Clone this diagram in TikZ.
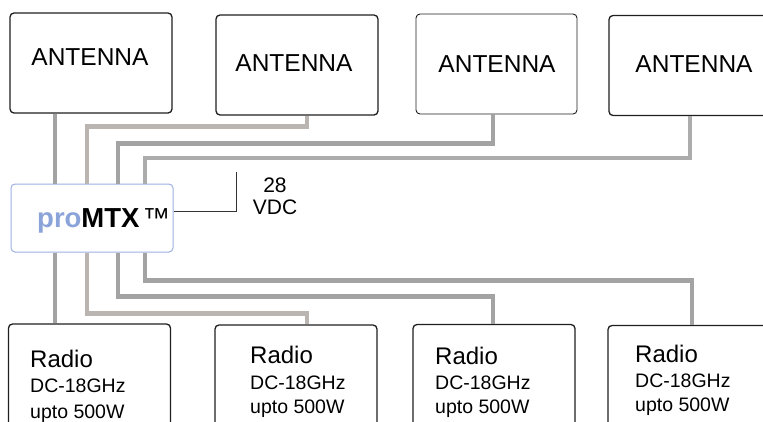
\documentclass[tikz,border=0pt]{standalone}
\usepackage{fontspec}
\setmainfont{Liberation Sans}
\definecolor{cableA}{HTML}{A3A3A3}
\definecolor{cableB}{HTML}{BAB5B1}
\definecolor{mtxline}{HTML}{9DB0E2}
\definecolor{problue}{HTML}{8AA3D8}
\begin{document}
\begin{tikzpicture}[x=1pt,y=-1pt,
  box/.style={draw=black!88,line width=1.3pt,rounded corners=4pt,fill=white,inner sep=0pt},
  antbox/.style={box,minimum width=162pt,minimum height=100pt},
  radbox/.style={box,minimum width=162pt,minimum height=136pt},
  mtxbox/.style={draw=mtxline,line width=1pt,rounded corners=4pt,fill=white,inner sep=0pt,minimum width=162pt,minimum height=68pt},
  anttext/.style={inner sep=0pt,font=\fontsize{24.5}{28}\selectfont},
  radtitle/.style={inner sep=0pt,anchor=base west,font=\fontsize{24}{27}\selectfont},
  radsub/.style={inner sep=0pt,anchor=base west,font=\fontsize{19.5}{23}\selectfont},
  vdctext/.style={inner sep=0pt,anchor=base,font=\fontsize{21}{24}\selectfont},
  cable/.style={line width=4.5pt,line join=miter},
  power/.style={draw=black!80,line width=0.9pt}]
\useasboundingbox (0,0) rectangle (763,421);
\clip (0,0) rectangle (763,421);
% antenna boxes
\node[antbox] (a1) at (91,63) {};
\node[antbox] (a2) at (297,65) {};
\node[antbox,line width=0.9pt,minimum width=161pt] (a3) at (496.5,64) {};
\node[antbox] (a4) at (690,65.5) {};
\node[anttext] (a1t) at (90,57) {ANTENNA};
\node[anttext] (a2t) at (294,63) {ANTENNA};
\node[anttext] (a3t) at (497,64.5) {ANTENNA};
\node[anttext] (a4t) at (694,64.5) {ANTENNA};
% radio boxes
\node[radbox] (r1) at (89.5,392) {};
\node[radbox] (r2) at (296,393) {};
\node[radbox] (r3) at (494,392.5) {};
\node[radbox] (r4) at (689,393.5) {};
\node[radtitle] (r1a) at (30,367) {Radio};
\node[radsub] (r1b) at (30,392) {DC-18GHz};
\node[radsub] (r1c) at (30,418) {upto 500W};
\node[radtitle] (r2a) at (250,363) {Radio};
\node[radsub] (r2b) at (250,389) {DC-18GHz};
\node[radsub] (r2c) at (250,413) {upto 500W};
\node[radtitle] (r3a) at (435,364) {Radio};
\node[radsub] (r3b) at (435,389) {DC-18GHz};
\node[radsub] (r3c) at (435,413) {upto 500W};
\node[radtitle] (r4a) at (635,362) {Radio};
\node[radsub] (r4b) at (635,387) {DC-18GHz};
\node[radsub] (r4c) at (635,411) {upto 500W};
% proMTX
\node[mtxbox] (mtx) at (92,218) {};
\node[inner sep=0pt,anchor=base west,font=\fontsize{27.5}{30}\selectfont] (mtxt) at (37,227)
  {\textbf{\textcolor{problue}{pro}MTX}\kern3pt ™};
% ports
\coordinate (m1) at ([xshift=-37pt]mtx.north);
\coordinate (m2) at ([xshift=-5pt]mtx.north);
\coordinate (m3) at ([xshift=26pt]mtx.north);
\coordinate (m4) at ([xshift=53pt]mtx.north);
\coordinate (n1) at ([xshift=-37pt]mtx.south);
\coordinate (n2) at ([xshift=-5pt]mtx.south);
\coordinate (n3) at ([xshift=26pt]mtx.south);
\coordinate (n4) at ([xshift=53pt]mtx.south);
% top cables
\draw[cable,cableA] (m1) -- (m1 |- a1.south);
\draw[cable,cableB] ([xshift=10pt]a2.south) -- ++(0,11) -| (m2);
\draw[cable,cableA] ([xshift=-3.5pt]a3.south) -- ++(0,29) -| (m3);
\draw[cable,cableA!90!white] (a4.south) -- ++(0,42) -| (m4);
% bottom cables
\draw[cable,cableA] (n1) -- (n1 |- r1.north);
\draw[cable,cableB] (n2) -- ++(0,61) -| ([xshift=11pt]r2.north);
\draw[cable,cableA] (n3) -- ++(0,44) -| ([xshift=-1pt]r3.north);
\draw[cable,cableA] (n4) -- ++(0,28) -| ([xshift=3pt]r4.north);
% power
\coordinate (pw) at (236,172);
\draw[power] ([yshift=7pt]mtx.east) -| (pw);
\node[vdctext] (v1) at (275,192) {28};
\node[vdctext] (v2) at (275,214) {VDC};
\end{tikzpicture}
\end{document}
